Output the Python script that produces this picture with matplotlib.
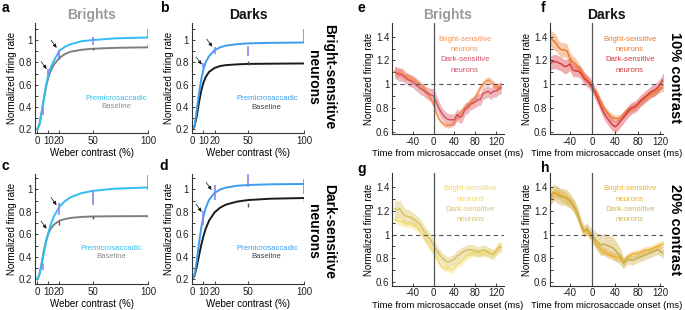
import numpy as np
import matplotlib
matplotlib.use('Agg')
import matplotlib.pyplot as plt

plt.rcParams['font.family'] = ['Liberation Sans', 'DejaVu Sans']
plt.rcParams['axes.linewidth'] = 0.8

# ---- contrast response curves (a-d) ----
contrast = [0, 2, 4, 6, 8, 10, 12, 15, 20, 25, 30, 40, 50, 70, 100]

a_pre = [0.20, 0.24, 0.35, 0.47, 0.59, 0.69, 0.75, 0.815, 0.905, 0.94, 0.962, 0.99, 1.0, 1.015, 1.023]
a_base = [0.20, 0.245, 0.355, 0.475, 0.585, 0.665, 0.72, 0.78, 0.84, 0.875, 0.895, 0.913, 0.922, 0.93, 0.935]
b_pre = [0.20, 0.22, 0.37, 0.52, 0.645, 0.735, 0.80, 0.855, 0.91, 0.935, 0.95, 0.963, 0.97, 0.975, 0.978]
b_base = [0.20, 0.225, 0.317, 0.44, 0.545, 0.618, 0.668, 0.714, 0.75, 0.767, 0.775, 0.782, 0.786, 0.788, 0.79]
c_pre = [0.20, 0.243, 0.334, 0.437, 0.532, 0.614, 0.683, 0.76, 0.845, 0.896, 0.93, 0.967, 0.987, 1.006, 1.017]
c_base = [0.20, 0.239, 0.344, 0.458, 0.546, 0.607, 0.649, 0.687, 0.721, 0.736, 0.746, 0.755, 0.759, 0.761, 0.762]
d_pre = [0.20, 0.238, 0.362, 0.518, 0.656, 0.76, 0.834, 0.906, 0.969, 0.999, 1.016, 1.032, 1.039, 1.045, 1.048]
d_base = [0.20, 0.231, 0.31, 0.409, 0.503, 0.584, 0.649, 0.721, 0.796, 0.838, 0.864, 0.891, 0.905, 0.917, 0.923]

# error bars (contrast, low, high)
a_pre_bx = [5, 10, 20, 50, 100]
a_pre_lo = [0.33, 0.69, 0.83, 0.955, 1.015]
a_pre_hi = [0.39, 0.74, 0.91, 1.025, 1.095]
a_base_bx = [20, 50, 100]
a_base_lo = [0.83, 0.91, 0.93]
a_base_hi = [0.87, 0.93, 0.975]
b_pre_bx = [10, 20, 50, 100]
b_pre_lo = [0.745, 0.875, 0.86, 0.985]
b_pre_hi = [0.79, 0.94, 0.95, 1.095]
b_base_bx = [50, 100]
b_base_lo = [0.78, 0.78]
b_base_hi = [0.81, 0.80]
c_pre_bx = [5, 20, 50, 100]
c_pre_lo = [0.28, 0.77, 0.86, 0.995]
c_pre_hi = [0.34, 0.875, 0.995, 1.13]
c_base_bx = [20, 50, 100]
c_base_lo = [0.68, 0.74, 0.745]
c_base_hi = [0.72, 0.765, 0.78]
d_pre_bx = [10, 20, 50, 100]
d_pre_lo = [0.68, 0.905, 1.02, 0.955]
d_pre_hi = [0.81, 1.035, 1.135, 1.09]
d_base_bx = [50, 100]
d_base_lo = [0.84, 0.89]
d_base_hi = [0.88, 0.93]

a_arrows = [(8.5, 0.74), (17.5, 0.93)]
b_arrows = [(8.4, 0.78), (17.9, 0.94)]
c_arrows = [(8.4, 0.65), (17.4, 0.86)]
d_arrows = [(8.4, 0.80), (17.3, 0.995)]

contrast_ticks = [0, 10, 20, 50, 100]
rate_ticks = [0.2, 0.3, 0.4, 0.5, 0.6, 0.7, 0.8, 0.9, 1.0, 1.1]
rate_labels = ['0.2', '', '0.4', '', '0.6', '', '0.8', '', '1', '']

# ---- time courses (e-h) ----
t_ms = list(range(-75, 135, 5))

e_bright = [1.11, 1.09, 1.10, 1.08, 1.06, 1.065, 1.05,
            1.04, 1.03, 1.01, 0.99, 0.97, 0.94, 0.91,
            0.87, 0.83, 0.76, 0.71, 0.68, 0.66, 0.65,
            0.65, 0.66, 0.69, 0.72, 0.75, 0.78, 0.80,
            0.82, 0.84, 0.86, 0.89, 0.93, 0.97, 1.00,
            1.02, 1.035, 1.02, 1.00, 0.98, 0.97, 0.99]
e_bright_sem = [0.04, 0.04, 0.035, 0.035, 0.03, 0.03, 0.03,
                0.03, 0.03, 0.03, 0.03, 0.03, 0.03, 0.03,
                0.03, 0.03, 0.025, 0.02, 0.02, 0.02, 0.02,
                0.02, 0.02, 0.025, 0.025, 0.03, 0.03, 0.03,
                0.03, 0.03, 0.03, 0.03, 0.03, 0.03, 0.03,
                0.03, 0.03, 0.03, 0.03, 0.03, 0.03, 0.03]
e_dark = [1.10, 1.09, 1.08, 1.08, 1.06, 1.04, 1.03,
          1.02, 1.00, 0.98, 0.96, 0.95, 0.93, 0.92,
          0.91, 0.90, 0.85, 0.80, 0.76, 0.73, 0.71,
          0.70, 0.70, 0.70, 0.745, 0.72, 0.73, 0.79,
          0.80, 0.83, 0.84, 0.85, 0.87, 0.87, 0.92,
          0.93, 0.94, 0.92, 0.94, 0.94, 0.96, 0.97]
e_dark_sem = [0.05, 0.055, 0.055, 0.055, 0.05, 0.05, 0.05,
              0.05, 0.05, 0.05, 0.05, 0.05, 0.05, 0.05,
              0.055, 0.06, 0.06, 0.055, 0.05, 0.05, 0.05,
              0.05, 0.05, 0.05, 0.05, 0.05, 0.05, 0.05,
              0.05, 0.05, 0.05, 0.05, 0.05, 0.05, 0.05,
              0.05, 0.05, 0.05, 0.05, 0.05, 0.05, 0.05]

f_bright = [1.39, 1.37, 1.35, 1.31, 1.29, 1.29, 1.28,
            1.22, 1.19, 1.17, 1.14, 1.11, 1.07, 1.04,
            1.01, 0.98, 0.94, 0.90, 0.85, 0.80, 0.77,
            0.74, 0.72, 0.71, 0.71, 0.72, 0.74, 0.77,
            0.79, 0.80, 0.81, 0.83, 0.85, 0.87, 0.89,
            0.91, 0.92, 0.93, 0.95, 0.96, 0.97, 0.97]
f_bright_sem = [0.07, 0.07, 0.07, 0.06, 0.06, 0.06, 0.06,
                0.05, 0.05, 0.05, 0.04, 0.04, 0.04, 0.035,
                0.035, 0.03, 0.03, 0.03, 0.03, 0.03, 0.03,
                0.03, 0.03, 0.03, 0.03, 0.03, 0.03, 0.03,
                0.03, 0.03, 0.03, 0.03, 0.03, 0.03, 0.03,
                0.03, 0.03, 0.03, 0.03, 0.03, 0.03, 0.03]
f_dark = [1.17, 1.19, 1.19, 1.18, 1.17, 1.15, 1.15,
          1.17, 1.12, 1.11, 1.11, 1.09, 1.05, 1.03,
          1.01, 0.97, 0.92, 0.87, 0.81, 0.76, 0.72,
          0.69, 0.66, 0.64, 0.66, 0.69, 0.72, 0.75,
          0.78, 0.80, 0.81, 0.83, 0.86, 0.88, 0.90,
          0.92, 0.94, 0.95, 0.97, 1.00, 1.04, 1.04]
f_dark_sem = [0.06, 0.06, 0.06, 0.06, 0.06, 0.06, 0.06,
              0.055, 0.055, 0.05, 0.05, 0.05, 0.05, 0.05,
              0.05, 0.05, 0.05, 0.05, 0.05, 0.05, 0.05,
              0.05, 0.05, 0.05, 0.05, 0.05, 0.05, 0.05,
              0.05, 0.05, 0.05, 0.05, 0.05, 0.05, 0.05,
              0.05, 0.05, 0.05, 0.05, 0.05, 0.05, 0.05]

g_bright = [1.13, 1.12, 1.11, 1.11, 1.09, 1.09, 1.09,
            1.08, 1.07, 1.05, 1.02, 0.99, 0.95, 0.92,
            0.88, 0.85, 0.81, 0.77, 0.73, 0.72, 0.71,
            0.71, 0.70, 0.72, 0.75, 0.76, 0.78, 0.80,
            0.82, 0.83, 0.84, 0.85, 0.85, 0.84, 0.84,
            0.85, 0.85, 0.84, 0.84, 0.85, 0.90, 0.89]
g_bright_sem = [0.035, 0.035, 0.035, 0.035, 0.03, 0.03, 0.03,
                0.03, 0.03, 0.03, 0.03, 0.03, 0.03, 0.03,
                0.03, 0.03, 0.03, 0.03, 0.03, 0.03, 0.03,
                0.03, 0.03, 0.03, 0.03, 0.03, 0.03, 0.03,
                0.03, 0.03, 0.03, 0.03, 0.03, 0.03, 0.03,
                0.03, 0.03, 0.03, 0.03, 0.03, 0.03, 0.03]
g_dark = [1.22, 1.21, 1.22, 1.18, 1.16, 1.15, 1.15,
          1.13, 1.12, 1.10, 1.08, 1.04, 1.01, 0.98,
          0.95, 0.91, 0.87, 0.84, 0.81, 0.79, 0.77,
          0.77, 0.78, 0.79, 0.82, 0.83, 0.85, 0.86,
          0.87, 0.87, 0.87, 0.86, 0.85, 0.86, 0.87,
          0.86, 0.85, 0.84, 0.83, 0.86, 0.89, 0.89]
g_dark_sem = [0.075, 0.075, 0.075, 0.07, 0.065, 0.06, 0.06,
              0.055, 0.055, 0.05, 0.05, 0.05, 0.05, 0.05,
              0.05, 0.05, 0.05, 0.045, 0.045, 0.045, 0.045,
              0.045, 0.045, 0.045, 0.045, 0.045, 0.045, 0.045,
              0.045, 0.045, 0.045, 0.045, 0.045, 0.045, 0.045,
              0.045, 0.045, 0.045, 0.045, 0.045, 0.045, 0.045]

h_bright = [1.29, 1.33, 1.36, 1.35, 1.33, 1.32, 1.30,
            1.28, 1.25, 1.21, 1.15, 1.07, 1.02, 1.04,
            1.00, 0.98, 0.93, 0.90, 0.87, 0.86, 0.84,
            0.83, 0.82, 0.81, 0.81, 0.80, 0.76, 0.80,
            0.82, 0.83, 0.84, 0.84, 0.85, 0.86, 0.87,
            0.87, 0.88, 0.89, 0.90, 0.91, 0.92, 0.92]
h_bright_sem = [0.05, 0.05, 0.05, 0.05, 0.05, 0.05, 0.05,
                0.045, 0.045, 0.045, 0.04, 0.04, 0.04, 0.04,
                0.035, 0.035, 0.035, 0.035, 0.035, 0.035, 0.035,
                0.035, 0.035, 0.035, 0.035, 0.035, 0.035, 0.03,
                0.03, 0.03, 0.03, 0.03, 0.03, 0.03, 0.03,
                0.03, 0.03, 0.03, 0.03, 0.03, 0.03, 0.03]
h_dark = [1.31, 1.36, 1.35, 1.33, 1.32, 1.32, 1.31,
          1.29, 1.26, 1.22, 1.16, 1.09, 1.03, 1.05,
          1.02, 0.99, 0.96, 0.93, 0.91, 0.92, 0.91,
          0.90, 0.89, 0.87, 0.84, 0.81, 0.76, 0.78,
          0.79, 0.78, 0.79, 0.80, 0.81, 0.82, 0.83,
          0.84, 0.85, 0.86, 0.87, 0.86, 0.84, 0.84]
h_dark_sem = [0.07, 0.07, 0.07, 0.07, 0.07, 0.07, 0.07,
              0.065, 0.06, 0.06, 0.06, 0.05, 0.05, 0.05,
              0.05, 0.06, 0.07, 0.08, 0.09, 0.09, 0.09,
              0.09, 0.09, 0.09, 0.08, 0.07, 0.05, 0.04,
              0.04, 0.04, 0.04, 0.04, 0.04, 0.04, 0.04,
              0.04, 0.04, 0.04, 0.04, 0.04, 0.04, 0.04]

time_ticks = [-40, 0, 40, 80, 120]
fr_ticks = [0.6, 0.7, 0.8, 0.9, 1.0, 1.1, 1.2, 1.3, 1.4]
fr_labels = ['0.6', '', '0.8', '', '1', '', '1.2', '', '1.4']

W, H = 685, 310
fig = plt.figure(figsize=(W / 100, H / 100), dpi=100)


def rect(l, r, t, b):
    return [l / W, 1 - b / H, (r - l) / W, (b - t) / H]


def style(ax):
    ax.spines['top'].set_visible(False)
    ax.spines['right'].set_visible(False)
    for s in ('left', 'bottom'):
        ax.spines[s].set_color('#333333')
    ax.tick_params(direction='in', length=2.5, width=0.6, labelsize=7, pad=2, colors='#222222')
    ax.set_ylabel('Normalized firing rate', fontsize=7, labelpad=1)


def contrast_panel(box, xleft, ylim, pre, base, pre_c, base_c, pbx, plo, phi, bbx, blo, bhi,
                   arrows, leg_x, leg_y, base_txt_c):
    ax = fig.add_axes(box)
    style(ax)
    ax.plot(contrast, base, color=base_c, lw=1.4)
    ax.plot(contrast, pre, color=pre_c, lw=1.4)
    ax.vlines(bbx, blo, bhi, color='#555555', lw=1.0)
    ax.vlines(pbx, plo, phi, color='#8a84f0', lw=1.2)
    for tip in arrows:
        ax.annotate('', xy=tip, xytext=(-4, 5.5), textcoords='offset points',
                    arrowprops=dict(arrowstyle='-|>,head_length=0.22,head_width=0.1',
                                    lw=0.5, color='#111111', shrinkA=0, shrinkB=0))
    ax.set_xlim(xleft, 100)
    ax.set_ylim(*ylim)
    ax.set_xticks(contrast_ticks)
    ax.set_xticklabels([str(c) for c in contrast_ticks])
    ax.set_yticks(rate_ticks)
    ax.set_yticklabels(rate_labels)
    ax.set_xlabel('Weber contrast (%)', fontsize=7, labelpad=1.5)
    ax.text(leg_x, leg_y, 'Premicrosaccadic', color=pre_c, fontsize=5.6,
            ha='center', va='center', transform=ax.transAxes)
    ax.text(leg_x, leg_y - 0.08, 'Baseline', color=base_txt_c, fontsize=5.6,
            ha='center', va='center', transform=ax.transAxes)
    return ax


def time_panel(box, xlim, ylim, bright, bright_sem, dark, dark_sem, cb, cd, tcb, tcd, leg_x, leg_ys):
    ax = fig.add_axes(box)
    style(ax)
    t = np.array(t_ms)
    for y, s, c in ((bright, bright_sem, cb), (dark, dark_sem, cd)):
        y = np.array(y)
        s = np.array(s)
        ax.fill_between(t, y - s, y + s, color=c, alpha=0.4, lw=0)
    ax.plot(t, bright, color=cb, lw=1.0)
    ax.plot(t, dark, color=cd, lw=1.0)
    ax.axvline(0, color='#555555', lw=0.9)
    ax.axhline(1, color='#555555', lw=0.8, ls=(0, (4, 3)))
    ax.set_xlim(*xlim)
    ax.set_ylim(*ylim)
    ax.set_xticks(time_ticks)
    ax.set_xticklabels([str(v) for v in time_ticks])
    ax.set_yticks(fr_ticks)
    ax.set_yticklabels(fr_labels)
    ax.set_xlabel('Time from microsaccade onset (ms)', fontsize=6.8, labelpad=1.5)
    for txt, yy, c in zip(['Bright-sensitive', 'neurons', 'Dark-sensitive', 'neurons'],
                          leg_ys, [tcb, tcb, tcd, tcd]):
        ax.text(leg_x, yy, txt, color=c, fontsize=5.6, ha='center', va='center',
                transform=ax.transAxes)
    return ax


# a-d
contrast_panel(rect(35, 148.3, 23.3, 133.2), -2, (0.165, 1.15), a_pre, a_base, '#2fbdf2', '#7f7f7f',
               a_pre_bx, a_pre_lo, a_pre_hi, a_base_bx, a_base_lo, a_base_hi,
               a_arrows, 0.72, 0.32, '#8c8c8c')
contrast_panel(rect(191.7, 304, 23.3, 133.2), -0.5, (0.165, 1.15), b_pre, b_base, '#3a9df0', '#1a1a1a',
               b_pre_bx, b_pre_lo, b_pre_hi, b_base_bx, b_base_lo, b_base_hi,
               b_arrows, 0.668, 0.318, '#444444')
contrast_panel(rect(35, 148.3, 174.2, 283.8), -2, (0.16, 1.135), c_pre, c_base, '#2fbdf2', '#7f7f7f',
               c_pre_bx, c_pre_lo, c_pre_hi, c_base_bx, c_base_lo, c_base_hi,
               c_arrows, 0.676, 0.325, '#8c8c8c')
contrast_panel(rect(191.7, 304, 174.2, 283.8), -0.5, (0.16, 1.135), d_pre, d_base, '#3a9df0', '#1a1a1a',
               d_pre_bx, d_pre_lo, d_pre_hi, d_base_bx, d_base_lo, d_base_hi,
               d_arrows, 0.668, 0.325, '#444444')

# e-h
top_leg = [0.853, 0.757, 0.667, 0.570]
bot_leg = [0.867, 0.769, 0.680, 0.585]
time_panel(rect(392, 503.8, 23, 134), (-80, 135), (0.58, 1.515), e_bright, e_bright_sem, e_dark, e_dark_sem,
           '#f5894a', '#d4505c', '#f4935a', '#d4506a', 0.653, top_leg)
time_panel(rect(550, 663.1, 23, 134), (-75, 125), (0.58, 1.515), f_bright, f_bright_sem, f_dark, f_dark_sem,
           '#ea782c', '#d9363a', '#ea7a2c', '#d9363a', 0.707, top_leg)
time_panel(rect(392, 503.8, 173.3, 285.7), (-80, 135), (0.566, 1.52), g_bright, g_bright_sem, g_dark, g_dark_sem,
           '#f3dc6a', '#d9c05a', '#f2d860', '#d8c070', 0.70, bot_leg)
time_panel(rect(550, 663.1, 173.3, 285.7), (-75, 125), (0.566, 1.52), h_bright, h_bright_sem, h_dark, h_dark_sem,
           '#f0ae2c', '#c8aa45', '#f0b030', '#d0b860', 0.707, bot_leg)

# titles
fig.text(91.7 / W, 1 - 15 / H, 'Brights', fontsize=10, weight='bold', color='#9a9a9a', ha='center', va='center')
fig.text(248 / W, 1 - 15 / H, 'Darks', fontsize=10, weight='bold', color='#111111', ha='center', va='center')
fig.text(447.5 / W, 1 - 15 / H, 'Brights', fontsize=10, weight='bold', color='#9a9a9a', ha='center', va='center')
fig.text(606 / W, 1 - 15 / H, 'Darks', fontsize=10, weight='bold', color='#111111', ha='center', va='center')

# panel letters
for letter, x, y in [('a', 5.5, 8.5), ('b', 164, 8.5), ('c', 5, 166), ('d', 164, 166),
                     ('e', 361, 8.5), ('f', 543, 8), ('g', 362, 169), ('h', 545, 168)]:
    fig.text(x / W, 1 - y / H, letter, fontsize=10, weight='bold', ha='center', va='center')

# row / column side labels
fig.text(321 / W, 1 - 77 / H, 'Bright-sensitive\nneurons', rotation=270, fontsize=10, weight='bold',
         ha='center', va='center', multialignment='center')
fig.text(321 / W, 1 - 231 / H, 'Dark-sensitive\nneurons', rotation=270, fontsize=10, weight='bold',
         ha='center', va='center', multialignment='center')
fig.text(675 / W, 1 - 77 / H, '10% contrast', rotation=270, fontsize=10.5, weight='bold',
         ha='center', va='center')
fig.text(675 / W, 1 - 230 / H, '20% contrast', rotation=270, fontsize=10.5, weight='bold',
         ha='center', va='center')

fig.savefig('out.png', dpi=100)
